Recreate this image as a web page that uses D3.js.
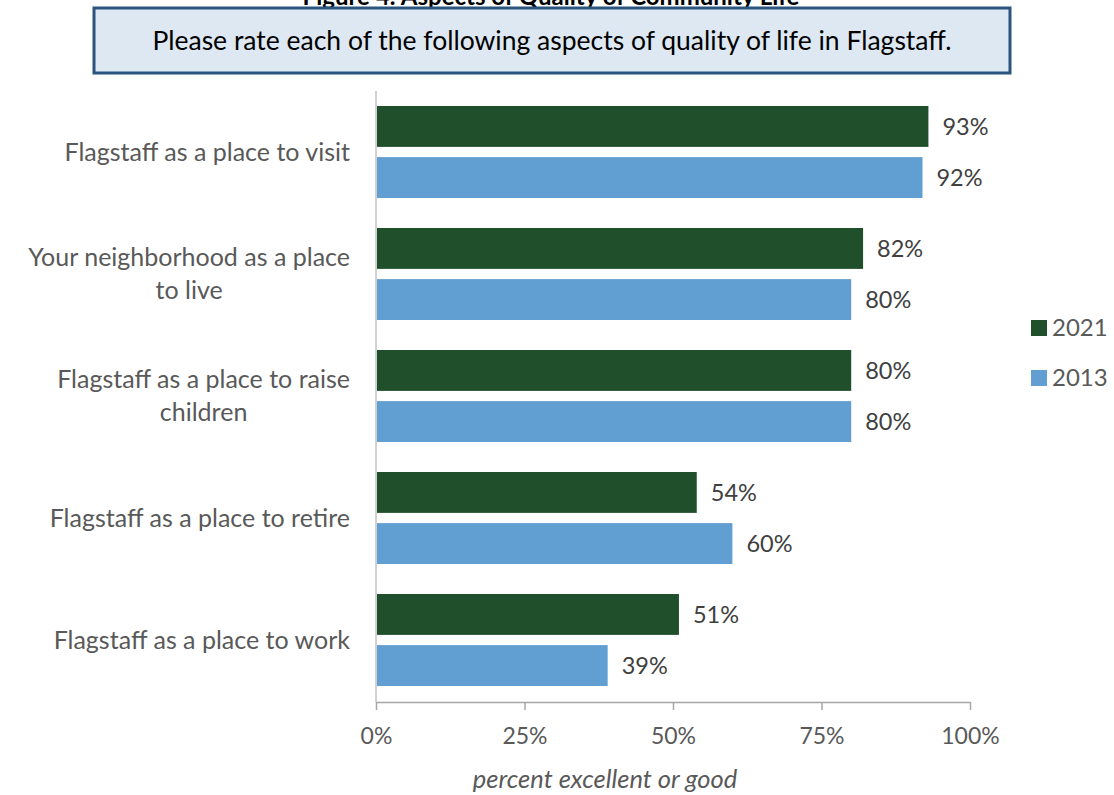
<!DOCTYPE html>
<html>
<head>
<meta charset="utf-8">
<script src="https://cdn.jsdelivr.net/npm/d3@7"></script>
<style>
  body { margin: 0; background: #fff; }
  svg text { font-family: "Lato", "Open Sans", sans-serif; }
</style>
</head>
<body>
<svg id="chart" width="1114" height="795"></svg>
<script>
// data
var categories = [
  ["Flagstaff as a place to visit"],
  ["Your neighborhood as a place", "to live"],
  ["Flagstaff as a place to raise", "children"],
  ["Flagstaff as a place to retire"],
  ["Flagstaff as a place to work"]
];
var years = ["2021", "2013"];
var values2021 = [93, 82, 80, 54, 51];
var values2013 = [92, 80, 80, 60, 39];
var ticks = [0, 25, 50, 75, 100];
var colors = ["#20502b", "#619ed2"];

var svg = d3.select("#chart");

// figure title, clipped by the top edge as in the source
svg.append("text")
  .attr("x", 551).attr("y", 5)
  .attr("text-anchor", "middle")
  .attr("font-size", 24).attr("font-weight", "bold")
  .attr("fill", "#000")
  .text("Figure 4: Aspects of Quality of Community Life");

// question box
svg.append("rect")
  .attr("x", 94).attr("y", 8).attr("width", 916).attr("height", 65)
  .attr("fill", "#dde8f3").attr("stroke", "#2b547e").attr("stroke-width", 3);
svg.append("text")
  .attr("x", 552).attr("y", 50)
  .attr("text-anchor", "middle")
  .attr("font-size", 26.5).attr("fill", "#000")
  .text("Please rate each of the following aspects of quality of life in Flagstaff.");

var x = d3.scaleLinear().domain([0, 100]).range([376, 970]);
var y = d3.scaleBand().domain(d3.range(categories.length)).range([91, 701]);
var inner = d3.scaleBand().domain(years).range([15, y.bandwidth() - 15]).paddingInner(0.2);

var rows = categories.map(function(c, i) {
  return {i: i, lines: c, v: [values2021[i], values2013[i]]};
});

var g = svg.selectAll(".cat").data(rows).enter().append("g")
  .attr("class", "cat")
  .attr("transform", function(d) { return "translate(0," + y(d.i) + ")"; });

function pairs(d) {
  return years.map(function(yr, k) { return {yr: yr, v: d.v[k], k: k}; });
}

// bars
g.selectAll("rect").data(pairs).enter().append("rect")
  .attr("x", x(0))
  .attr("y", function(d) { return inner(d.yr); })
  .attr("width", function(d) { return x(d.v) - x(0); })
  .attr("height", inner.bandwidth())
  .attr("fill", function(d) { return colors[d.k]; });

// value labels
g.selectAll(".val").data(pairs).enter().append("text")
  .attr("class", "val")
  .attr("x", function(d) { return x(d.v) + 14; })
  .attr("y", function(d) { return inner(d.yr) + inner.bandwidth() / 2; })
  .attr("dy", "0.35em")
  .attr("font-size", 23.5).attr("fill", "#404040")
  .text(function(d) { return d.v + "%"; });

// category labels, wrapped lines centred in their block
g.each(function(d) {
  var sel = d3.select(this);
  var lh = 33;
  var cy = y.bandwidth() / 2;
  var t = sel.append("text")
    .attr("font-size", 25).attr("fill", "#595959")
    .attr("text-anchor", "middle");
  var spans = d.lines.map(function(line, j) {
    return t.append("tspan")
      .attr("y", cy + (j - (d.lines.length - 1) / 2) * lh)
      .attr("dy", "0.35em")
      .text(line);
  });
  var maxW = 0;
  spans.forEach(function(s) { maxW = Math.max(maxW, s.node().getComputedTextLength()); });
  spans.forEach(function(s) { s.attr("x", 350 - maxW / 2); });
});

// y axis line
svg.append("line")
  .attr("x1", x(0)).attr("x2", x(0)).attr("y1", 91).attr("y2", 702)
  .attr("stroke", "#d0d0d0").attr("stroke-width", 2);

// x axis
var xAxis = svg.append("g")
  .attr("transform", "translate(0,702)")
  .call(d3.axisBottom(x).tickValues(ticks).tickSize(8).tickSizeOuter(0)
    .tickFormat(function(d) { return d + "%"; }));
xAxis.select(".domain").attr("stroke", "#a6a6a6").attr("stroke-width", 1.5);
xAxis.selectAll(".tick line").attr("stroke", "#a6a6a6").attr("stroke-width", 1.5);
xAxis.selectAll(".tick text")
  .attr("font-size", 23).attr("fill", "#595959")
  .attr("font-family", "Lato, 'Open Sans', sans-serif")
  .attr("y", 26);

svg.append("text")
  .attr("x", 605).attr("y", 788)
  .attr("text-anchor", "middle")
  .attr("font-size", 25.5).attr("font-style", "italic").attr("fill", "#595959")
  .text("percent excellent or good");

// legend
var leg = svg.selectAll(".leg").data(years).enter().append("g")
  .attr("class", "leg")
  .attr("transform", function(d, k) { return "translate(1031," + (328 + k * 50) + ")"; });
leg.append("rect")
  .attr("x", 0).attr("y", -8).attr("width", 16).attr("height", 16)
  .attr("fill", function(d, k) { return colors[k]; });
leg.append("text")
  .attr("x", 21).attr("dy", "0.35em")
  .attr("font-size", 24).attr("fill", "#595959")
  .text(function(d) { return d; });
</script>
</body>
</html>
